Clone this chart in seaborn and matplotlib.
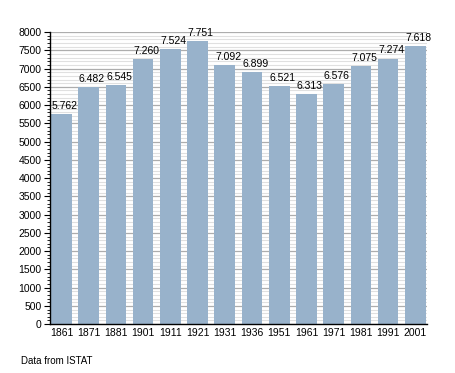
import numpy as np
import pandas as pd
import matplotlib
matplotlib.use("Agg")
import matplotlib.pyplot as plt
import seaborn as sns
from matplotlib.ticker import MultipleLocator

# -------------------------------
# Data
# -------------------------------
years = ["1861", "1871", "1881", "1901", "1911", "1921", "1931",
         "1936", "1951", "1961", "1971", "1981", "1991", "2001"]
population = [5762, 6482, 6545, 7260, 7524, 7751, 7092,
              6899, 6521, 6313, 6576, 7075, 7274, 7618]
labels = ["5.762", "6.482", "6.545", "7.260", "7.524", "7.751", "7.092",
          "6.899", "6.521", "6.313", "6.576", "7.075", "7.274", "7.618"]

df = pd.DataFrame({"Year": years, "Population": population})

# -------------------------------
# Plot
# -------------------------------
sns.set_style("white")
plt.rcParams["font.family"] = ["Liberation Sans", "DejaVu Sans"]
plt.rcParams["text.color"] = "black"
plt.rcParams["xtick.color"] = "black"
plt.rcParams["ytick.color"] = "black"

fig = plt.figure(figsize=(4.55, 3.73), dpi=100)
ax = fig.add_axes([0.11, 0.131, 0.828, 0.783])
ax.set_axisbelow(True)

bar_w = 0.76
sns.barplot(x="Year", y="Population", data=df, color="#98b2cb",
            saturation=1, width=bar_w, linewidth=0, edgecolor="none", ax=ax)
for p in ax.patches:
    p.set_zorder(3)

ax.set_ylim(0, 8000)
ax.set_xlim(-0.42, len(years) - 1 + 0.42)
ax.yaxis.set_major_locator(MultipleLocator(500))
ax.yaxis.set_minor_locator(MultipleLocator(100))
ax.grid(which="minor", axis="y", color="#e0e0e0", linewidth=0.8, zorder=0)
ax.grid(which="major", axis="y", color="#adadad", linewidth=0.9, zorder=1)

ax.tick_params(axis="y", which="major", length=4, width=0.8, labelsize=7.5, pad=2, left=True)
ax.tick_params(axis="y", which="minor", length=2, width=0.6, left=True)
ax.tick_params(axis="x", length=0, labelsize=7.5, pad=3)

for s in ["top", "right"]:
    ax.spines[s].set_visible(False)
for s in ["left", "bottom"]:
    ax.spines[s].set_color("black")
    ax.spines[s].set_linewidth(1.0)
    ax.spines[s].set_zorder(4)

ax.set_xlabel("")
ax.set_ylabel("")

# value labels sit left-aligned just above each bar
for i, (v, t) in enumerate(zip(population, labels)):
    ax.text(i - bar_w / 2 + 0.02, v + 140, t, ha="left", va="baseline",
            fontsize=7.5, color="black", zorder=5)

fig.text(21 / 455, 1 - 361 / 373, "Data from ISTAT", fontsize=7, va="center", color="black")

plt.savefig("out.png", dpi=100)
